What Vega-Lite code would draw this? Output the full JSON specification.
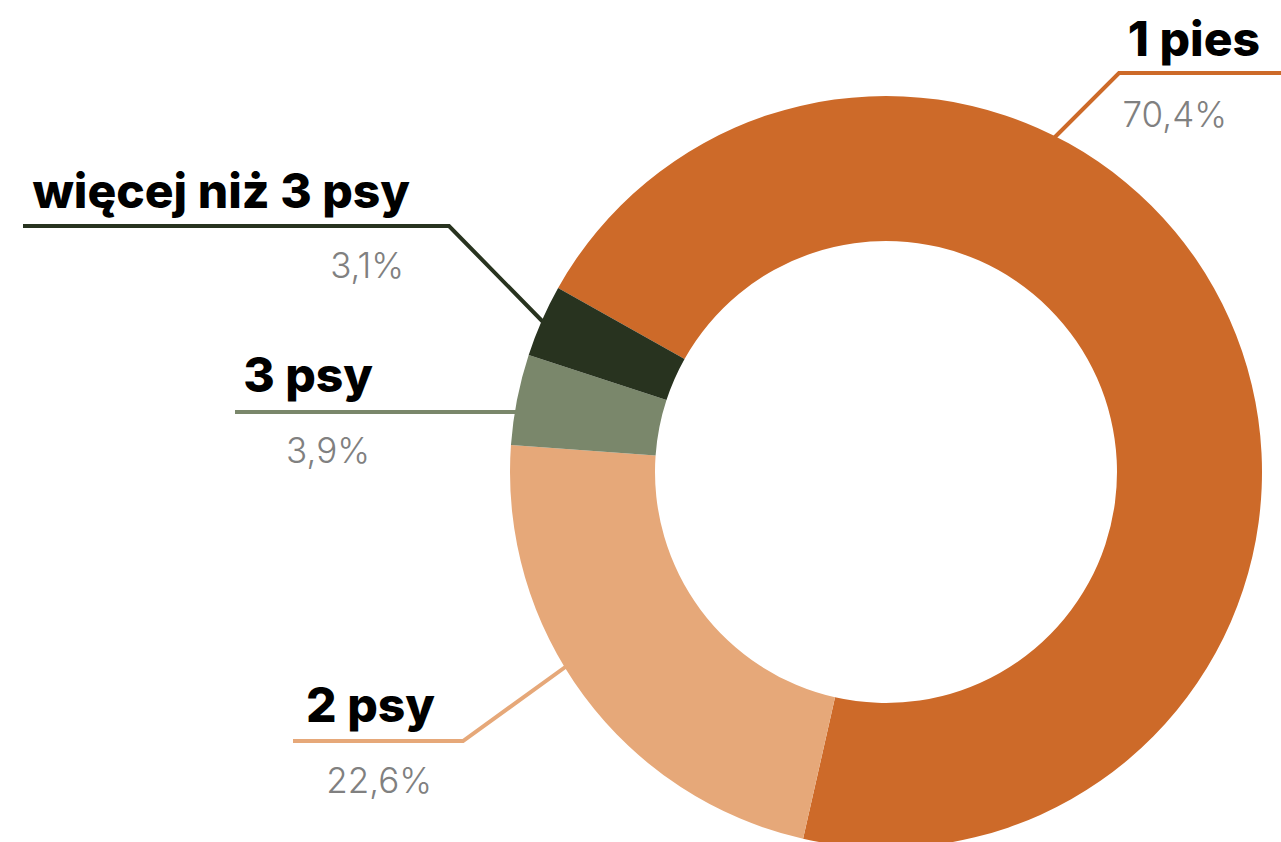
{
  "$schema": "https://vega.github.io/schema/vega-lite/v6.json",
  "width": 1281,
  "height": 842,
  "autosize": {"type": "none"},
  "padding": 0,
  "background": "white",
  "config": {"view": {"stroke": null}},
  "datasets": {
    "slices": [
      {"cat": "1 pies", "value": 70.4},
      {"cat": "2 psy", "value": 22.6},
      {"cat": "3 psy", "value": 3.9},
      {"cat": "więcej niż 3 psy", "value": 3.1}
    ],
    "leaders": [
      {"cat": "1 pies", "ord": 1, "px": 1045, "py": 147},
      {"cat": "1 pies", "ord": 2, "px": 1119, "py": 73},
      {"cat": "1 pies", "ord": 3, "px": 1281, "py": 73},
      {"cat": "więcej niż 3 psy", "ord": 1, "px": 23, "py": 226},
      {"cat": "więcej niż 3 psy", "ord": 2, "px": 449, "py": 226},
      {"cat": "więcej niż 3 psy", "ord": 3, "px": 547, "py": 326},
      {"cat": "3 psy", "ord": 1, "px": 235, "py": 412},
      {"cat": "3 psy", "ord": 2, "px": 522, "py": 412},
      {"cat": "2 psy", "ord": 1, "px": 293, "py": 741},
      {"cat": "2 psy", "ord": 2, "px": 463, "py": 741},
      {"cat": "2 psy", "ord": 3, "px": 575, "py": 660}
    ],
    "labels": [
      {"cat": "1 pies", "pct": "70,4%", "nx": 1260, "ny": 56, "tx": 1227, "ty": 127},
      {"cat": "więcej niż 3 psy", "pct": "3,1%", "nx": 410, "ny": 208, "tx": 404, "ty": 278},
      {"cat": "3 psy", "pct": "3,9%", "nx": 373, "ny": 392, "tx": 370, "ty": 463},
      {"cat": "2 psy", "pct": "22,6%", "nx": 435, "ny": 722, "tx": 432, "ty": 793}
    ]
  },
  "layer": [
    {
      "data": {"name": "leaders"},
      "mark": {"type": "line", "strokeWidth": 4, "strokeCap": "butt", "strokeJoin": "miter"},
      "encoding": {
        "x": {"field": "px", "type": "quantitative", "scale": {"domain": [0, 1281], "nice": false, "zero": false}, "axis": null},
        "y": {"field": "py", "type": "quantitative", "scale": {"domain": [0, 842], "nice": false, "zero": false, "reverse": true}, "axis": null},
        "order": {"field": "ord", "type": "quantitative"},
        "color": {"field": "cat", "type": "nominal", "legend": null,
          "scale": {"domain": ["1 pies", "2 psy", "3 psy", "więcej niż 3 psy"], "range": ["#CD6A29", "#E6A879", "#7A876B", "#28331F"]}}
      }
    },
    {
      "data": {"name": "slices"},
      "mark": {"type": "arc", "outerRadius": 376, "innerRadius": 231},
      "encoding": {
        "x": {"datum": 886, "type": "quantitative"},
        "y": {"datum": 472, "type": "quantitative"},
        "theta": {"field": "value", "type": "quantitative", "stack": true, "scale": {"range": [-1.0594, 5.2238]}},
        "order": {"field": "value", "type": "quantitative", "sort": "descending"},
        "color": {"field": "cat", "type": "nominal", "legend": null}
      }
    },
    {
      "data": {"name": "labels"},
      "mark": {"type": "text", "align": "right", "baseline": "alphabetic", "font": "Inter", "fontWeight": 800, "fontSize": 48, "color": "#000000"},
      "encoding": {
        "x": {"field": "nx", "type": "quantitative"},
        "y": {"field": "ny", "type": "quantitative"},
        "text": {"field": "cat", "type": "nominal"}
      }
    },
    {
      "data": {"name": "labels"},
      "mark": {"type": "text", "align": "right", "baseline": "alphabetic", "font": "Inter", "fontWeight": 300, "fontSize": 35, "color": "#808080"},
      "encoding": {
        "x": {"field": "tx", "type": "quantitative"},
        "y": {"field": "ty", "type": "quantitative"},
        "text": {"field": "pct", "type": "nominal"}
      }
    }
  ]
}
